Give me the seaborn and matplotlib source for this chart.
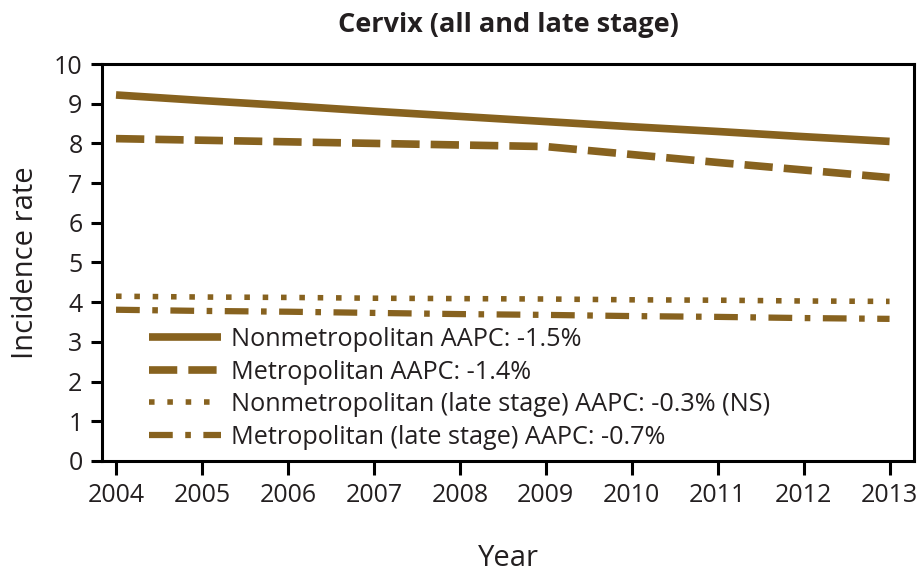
import matplotlib
matplotlib.use("Agg")
import matplotlib.pyplot as plt
import seaborn as sns
import pandas as pd

years = [2004, 2005, 2006, 2007, 2008, 2009, 2010, 2011, 2012, 2013]
nonmetro_all = [9.22, 9.08, 8.95, 8.81, 8.68, 8.55, 8.42, 8.30, 8.17, 8.05]
metro_all = [8.12, 8.08, 8.04, 8.00, 7.96, 7.92, 7.72, 7.52, 7.33, 7.14]
nonmetro_late = [4.15, 4.13, 4.12, 4.10, 4.09, 4.08, 4.06, 4.05, 4.03, 4.02]
metro_late = [3.81, 3.78, 3.76, 3.73, 3.70, 3.68, 3.65, 3.63, 3.60, 3.58]
labels = [
    "Nonmetropolitan AAPC: -1.5%",
    "Metropolitan AAPC: -1.4%",
    "Nonmetropolitan (late stage) AAPC: -0.3% (NS)",
    "Metropolitan (late stage) AAPC: -0.7%",
]
title = "Cervix (all and late stage)"
xlabel = "Year"
ylabel = "Incidence rate"

sns.set_theme(style="white")
plt.rcParams["font.family"] = ["Open Sans", "DejaVu Sans"]
txt = "#231f20"
col = "#87621f"

fig = plt.figure(figsize=(9.24, 5.73), dpi=100)
ax = fig.add_axes([0.1104, 0.1955, 0.8793, 0.6928])

series = [nonmetro_all, metro_all, nonmetro_late, metro_late]
styles = [
    dict(linewidth=5.5, linestyle="-", solid_capstyle="butt"),
    dict(linewidth=5.5, linestyle=(0, (3.7, 1.45)), dash_capstyle="butt"),
    dict(linewidth=4.0, linestyle=(0, (1.0, 2.3)), dash_capstyle="butt"),
    dict(linewidth=4.5, linestyle=(0, (3.8, 2.0, 0.9, 2.0)), dash_capstyle="butt"),
]
for vals, lab, st in zip(series, labels, styles):
    df = pd.DataFrame({"Year": years, "Rate": vals})
    sns.lineplot(data=df, x="Year", y="Rate", ax=ax, color=col, label=lab, **st)

ax.set_xlim(2003.837, 2013.29)
ax.set_ylim(0, 10)
ax.set_xticks(years)
ax.set_yticks(range(0, 11))
ax.set_xlabel(xlabel, fontsize=21, color=txt, labelpad=26)
ax.set_ylabel(ylabel, fontsize=21, color=txt, labelpad=10)
ax.set_title(title, fontsize=19.5, fontweight="bold", color=txt, pad=23)

for s in ax.spines.values():
    s.set_visible(True)
    s.set_color("black")
    s.set_linewidth(2.2)
ax.tick_params(axis="x", direction="out", length=10, width=2.2, color="black",
               labelsize=18, labelcolor=txt, pad=6, bottom=True)
ax.tick_params(axis="y", direction="out", length=8, width=2.2, color="black",
               labelsize=18, labelcolor=txt, pad=6, left=True)

leg = ax.legend(loc="lower left", bbox_to_anchor=(0.039, -0.01), frameon=False,
                fontsize=18.2, handlelength=2.85, handletextpad=0.4,
                labelspacing=0.3, labelcolor=txt, borderaxespad=0.2)

fig.savefig("out.png", dpi=100)
